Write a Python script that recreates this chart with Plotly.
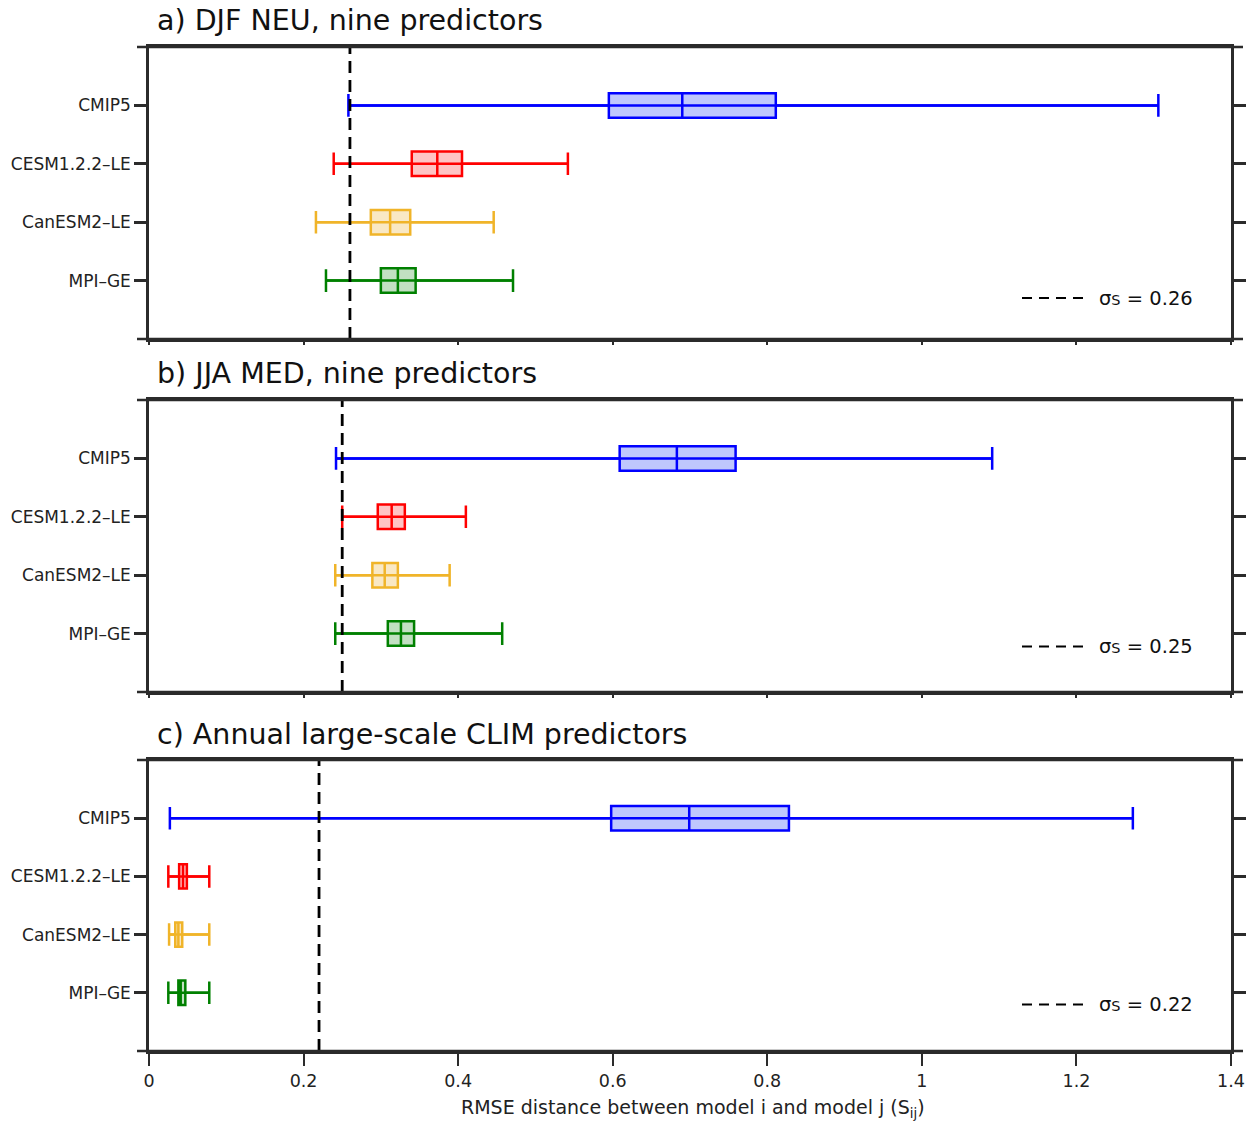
import plotly.graph_objects as go

# ---------------- data ----------------
models = ["CMIP5", "CESM1.2.2–LE", "CanESM2–LE", "MPI–GE"]
positions = [4, 3, 2, 1]
line_colors = ["#0000ff", "#ff0000", "#f0b429", "#008000"]
fill_colors = ["#bfc7fd", "#ffc4c4", "#f9e8c4", "#c2e0c2"]

titles = ["a) DJF NEU, nine predictors",
          "b) JJA MED, nine predictors",
          "c) Annual large-scale CLIM predictors"]
sigma_s = [0.26, 0.25, 0.22]

# per panel, per model (order of `models`)
lowerfence = [[0.258, 0.239, 0.216, 0.229],
              [0.242, 0.250, 0.241, 0.241],
              [0.027, 0.025, 0.026, 0.025]]
q1 = [[0.595, 0.340, 0.287, 0.300],
      [0.609, 0.296, 0.289, 0.309],
      [0.598, 0.039, 0.034, 0.038]]
median = [[0.690, 0.373, 0.312, 0.322],
          [0.683, 0.314, 0.305, 0.326],
          [0.699, 0.044, 0.038, 0.041]]
q3 = [[0.811, 0.405, 0.338, 0.345],
      [0.759, 0.331, 0.322, 0.343],
      [0.828, 0.049, 0.043, 0.047]]
upperfence = [[1.306, 0.542, 0.446, 0.471],
              [1.091, 0.410, 0.389, 0.457],
              [1.273, 0.078, 0.078, 0.078]]

x_ticks = [0, 0.2, 0.4, 0.6, 0.8, 1.0, 1.2, 1.4]
x_ticktext = ["0", "0.2", "0.4", "0.6", "0.8", "1", "1.2", "1.4"]
x_range = [0, 1.4]
y_range = [0, 5]

# ---------------- layout geometry ----------------
W, H = 1252, 1128
left_px, right_px = 149, 1231
panel_px = [(47, 339), (400, 692), (760, 1051)]
legend_y = [0.140, 0.156, 0.160]
FONT = "DejaVu Sans"
AXC = "#2b2b2b"
LW = 2.5

fig = go.Figure()

for p in range(3):
    xa = "x" if p == 0 else f"x{p+1}"
    ya = "y" if p == 0 else f"y{p+1}"
    for m in range(len(models)):
        fig.add_trace(go.Box(
            y=[positions[m]], q1=[q1[p][m]], median=[median[p][m]], q3=[q3[p][m]],
            lowerfence=[lowerfence[p][m]], upperfence=[upperfence[p][m]],
            orientation="h", width=0.42, whiskerwidth=0.92,
            line=dict(color=line_colors[m], width=LW),
            fillcolor=fill_colors[m], boxpoints=False, showlegend=False,
            hoverinfo="skip", xaxis=xa, yaxis=ya))
    for m in range(len(models)):
        fig.add_trace(go.Scatter(
            x=[lowerfence[p][m], upperfence[p][m]], y=[positions[m], positions[m]],
            mode="lines", line=dict(color=line_colors[m], width=LW),
            showlegend=False, hoverinfo="skip", xaxis=xa, yaxis=ya))
    fig.add_trace(go.Scatter(
        x=[sigma_s[p], sigma_s[p]], y=y_range, mode="lines",
        line=dict(color="black", width=2.8, dash="12px,7px"),
        showlegend=False, hoverinfo="skip", xaxis=xa, yaxis=ya))

layout = dict(width=W, height=H, margin=dict(l=0, r=0, t=0, b=0),
              paper_bgcolor="white", plot_bgcolor="white",
              font=dict(family=FONT, color="#222", size=16), showlegend=False)

annotations = []
shapes = []
for p in range(3):
    top_px, bot_px = panel_px[p]
    ydom = [1 - bot_px / H, 1 - top_px / H]
    xk = "xaxis" if p == 0 else f"xaxis{p+1}"
    yk = "yaxis" if p == 0 else f"yaxis{p+1}"
    ya = "y" if p == 0 else f"y{p+1}"
    xa = "x" if p == 0 else f"x{p+1}"
    last = (p == 2)
    layout[xk] = dict(domain=[left_px / W, right_px / W], range=x_range,
                      anchor=ya, showline=True, mirror=True, linecolor=AXC, linewidth=2.5,
                      showgrid=False, zeroline=False, automargin=False,
                      tickvals=x_ticks, ticktext=x_ticktext,
                      ticks="outside", ticklen=12 if last else 3, tickwidth=2 if last else 1.5,
                      tickcolor=AXC, showticklabels=last,
                      tickfont=dict(size=17.5, family=FONT, color="#222"))
    layout[yk] = dict(domain=ydom, range=y_range, anchor=xa,
                      showline=True, mirror="ticks", linecolor=AXC, linewidth=2.5,
                      showgrid=False, zeroline=False, automargin=False,
                      tickvals=positions, ticktext=models,
                      ticks="outside", ticklen=12, tickwidth=2.5, tickcolor=AXC,
                      tickfont=dict(size=17, family=FONT, color="#222"))
    # extended top/bottom frame lines
    for yy in (0, 1):
        shapes.append(dict(type="line", xref="paper", yref=f"{ya} domain",
                           x0=137 / W, x1=1243 / W, y0=yy, y1=yy,
                           line=dict(color=AXC, width=2.5)))
    # panel title
    annotations.append(dict(text=titles[p], xref="paper", yref="paper",
                            x=155 / W, y=1 - (top_px - 26) / H, xanchor="left", yanchor="middle",
                            showarrow=False, font=dict(size=28.5, family=FONT, color="#111")))
    # legend sample
    shapes.append(dict(type="line", xref="paper", yref=f"{ya} domain",
                       x0=1022 / W, x1=1083 / W, y0=legend_y[p], y1=legend_y[p],
                       line=dict(color="black", width=2, dash="10px,7px")))
    annotations.append(dict(text=f"σ<span style='font-size:14.5px'>S</span> = {sigma_s[p]:.2f}",
                            xref="paper", yref=f"{ya} domain",
                            x=1097 / W, y=legend_y[p], xanchor="left", yanchor="middle",
                            showarrow=False, font=dict(size=19.5, family=FONT, color="#111")))

annotations.append(dict(text="RMSE distance between model i and model j (S<sub>ij</sub>)",
                        xref="paper", yref="paper", x=693 / W, y=1 - 1108 / H,
                        xanchor="center", yanchor="middle", showarrow=False,
                        font=dict(size=19, family=FONT, color="#222")))

layout["annotations"] = annotations
layout["shapes"] = shapes
fig.update_layout(**layout)
fig.write_html("out.html",
               post_script="document.body.style.margin='0';document.body.style.overflow='hidden';")
